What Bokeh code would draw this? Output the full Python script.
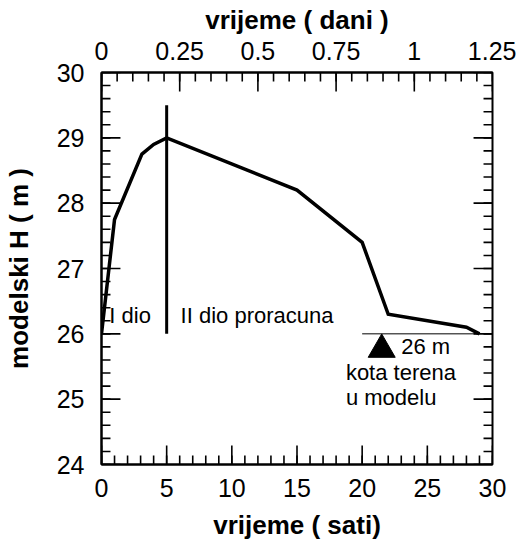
from bokeh.plotting import figure
from bokeh.models import (Range1d, LinearAxis, FixedTicker, CustomJSTickFormatter,
                          ColumnDataSource)
from bokeh.core.properties import value
from bokeh.embed import file_html
from bokeh.resources import INLINE

# ---- data ----
time_h = [0.0, 1.0, 3.1, 4.0, 5.0, 15.0, 20.0, 22.0, 28.0, 29.0]
head_m = [26.0, 27.75, 28.75, 28.9, 29.0, 28.2, 27.4, 26.3, 26.1, 26.0]

split_x = [5.0, 5.0]
split_y = [26.0, 29.5]

ground_x = [20.0, 29.0]
ground_y = [26.0, 26.0]

marker_x = [21.5]
marker_y = [25.76]

label_texts = ["I dio", "II dio proracuna", "26 m", "kota terena", "u modelu"]
label_x = [0.6, 6.07, 23.0, 18.75, 18.75]
label_y = [26.28, 26.28, 25.80, 25.415, 25.02]

x_ticks = [0, 5, 10, 15, 20, 25, 30]
x_minor = list(range(0, 31))
y_ticks = [24, 25, 26, 27, 28, 29, 30]
y_minor = [round(24 + 0.2 * i, 2) for i in range(31)]
day_ticks = [0, 0.25, 0.5, 0.75, 1.0, 1.25]
day_minor = [round(0.05 * i, 2) for i in range(26)]

FONT = "Liberation Sans"
X0, X1, Y0, Y1 = 0, 30, 24, 30
D0, D1 = 0, 1.25

W, H = 516, 544
BL, BR, BT, BB = 100, 24, 72, 80
FRAME_W = W - BL - BR
FRAME_H = H - BT - BB

p = figure(width=W, height=H, output_backend="svg", toolbar_location=None,
           x_range=Range1d(X0, X1), y_range=Range1d(Y0, Y1),
           x_axis_location=None, y_axis_location=None,
           min_border_left=BL, min_border_right=BR,
           min_border_top=BT, min_border_bottom=BB)
p.extra_x_ranges = {"days": Range1d(D0, D1)}
p.xgrid.visible = False
p.ygrid.visible = False
p.outline_line_color = "black"
p.outline_line_width = 2


def style(ax, label_size="25px"):
    ax.major_tick_in = 0
    ax.major_tick_out = 0
    ax.minor_tick_in = 0
    ax.minor_tick_out = 0
    ax.major_tick_line_color = None
    ax.minor_tick_line_color = None
    ax.axis_line_color = "black"
    ax.axis_line_width = 2
    ax.major_label_text_font = FONT
    ax.major_label_text_font_size = label_size
    ax.major_label_text_color = "black"
    ax.axis_label_text_font = FONT
    ax.axis_label_text_font_size = "26px"
    ax.axis_label_text_font_style = "bold"
    ax.axis_label_text_color = "black"


fmt = CustomJSTickFormatter(code="return tick.toString();")

bottom = LinearAxis(ticker=FixedTicker(ticks=x_ticks, minor_ticks=x_minor),
                    axis_label="vrijeme ( sati)", formatter=fmt)
style(bottom)
bottom.major_label_standoff = 14
bottom.axis_label_standoff = 10
p.add_layout(bottom, "below")

top = LinearAxis(x_range_name="days",
                 ticker=FixedTicker(ticks=day_ticks, minor_ticks=day_minor),
                 axis_label="vrijeme ( dani )", formatter=fmt)
style(top)
top.major_label_standoff = 13
top.axis_label_standoff = 4
p.add_layout(top, "above")

left = LinearAxis(ticker=FixedTicker(ticks=y_ticks, minor_ticks=y_minor),
                  axis_label="modelski H ( m )", formatter=fmt)
style(left)
left.major_label_standoff = 17
left.axis_label_standoff = 20
p.add_layout(left, "left")

# ---- inward tick marks as thin filled quads (pixel sizes converted to data units) ----
MAJ_PX, MIN_PX, TW_PX = 19, 9, 1.6
hx = (X1 - X0) / FRAME_W          # hours per pixel
dd = (D1 - D0) / FRAME_W          # days per pixel
my = (Y1 - Y0) / FRAME_H          # metres per pixel

L_, R_, B_, T_ = [], [], [], []
for ys, Lp in ((y_ticks, MAJ_PX), (y_minor, MIN_PX)):
    for y in ys:
        for xe, sgn in ((X0, 1), (X1, -1)):
            a, b = xe, xe + sgn * Lp * hx
            L_.append(min(a, b)); R_.append(max(a, b))
            B_.append(y - TW_PX / 2 * my); T_.append(y + TW_PX / 2 * my)
for xs, Lp in ((x_ticks, MAJ_PX), (x_minor, MIN_PX)):
    for x in xs:
        L_.append(x - TW_PX / 2 * hx); R_.append(x + TW_PX / 2 * hx)
        B_.append(Y0); T_.append(Y0 + Lp * my)
p.quad(left=L_, right=R_, bottom=B_, top=T_, fill_color="black", line_color=None)

Ld, Rd, Bd, Td = [], [], [], []
for xs, Lp in ((day_ticks, MAJ_PX), (day_minor, MIN_PX)):
    for x in xs:
        Ld.append(x - TW_PX / 2 * dd); Rd.append(x + TW_PX / 2 * dd)
        Bd.append(Y1 - Lp * my); Td.append(Y1)
p.quad(left=Ld, right=Rd, bottom=Bd, top=Td, fill_color="black", line_color=None,
       x_range_name="days")

# ---- data marks ----
p.line(time_h, head_m, line_color="black", line_width=3.5, line_join="miter")
p.line(split_x, split_y, line_color="black", line_width=3)
p.line(ground_x, ground_y, line_color="black", line_width=1)
p.scatter(marker_x, marker_y, marker="triangle", size=27,
          fill_color="black", line_color="black")

src = ColumnDataSource(dict(x=label_x, y=label_y, t=label_texts))
p.text(x="x", y="y", text="t", source=src, text_font=value(FONT),
       text_font_size="22px", text_color="black",
       text_align="left", text_baseline="alphabetic")

open("out.html", "w").write(file_html(p, INLINE))
